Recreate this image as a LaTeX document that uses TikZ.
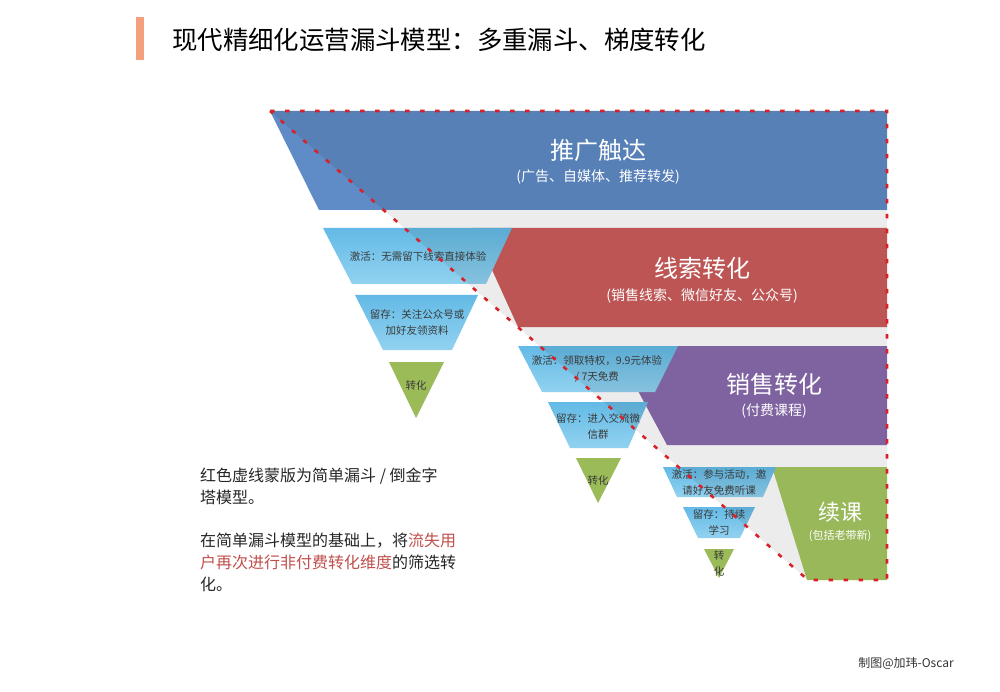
\documentclass[tikz,border=0pt]{standalone}
\usepackage{fontspec}
\setmainfont{Noto Sans CJK SC}
\usepackage{tikz}
\usetikzlibrary{calc,positioning}
\definecolor{bandblue}{HTML}{5F8BC6}
\definecolor{bandred}{HTML}{CD5C5C}
\definecolor{bandpurple}{HTML}{8A6CAD}
\definecolor{bandgreen}{HTML}{A6C762}
\definecolor{trigreen}{HTML}{9BBB59}
\definecolor{traptop}{HTML}{63BAE6}
\definecolor{trapbot}{HTML}{92D2F0}
\definecolor{txtgray}{HTML}{3A3A3A}
\definecolor{notered}{HTML}{C0504D}
\definecolor{titleorange}{HTML}{F4A07C}
\definecolor{maskred}{HTML}{D92228}
\newcommand{\rdtxt}[1]{\textcolor{notered}{#1}}

\begin{document}
\begin{tikzpicture}[x=1pt,y=-1pt,inner sep=0pt,
    trap/.style={top color=traptop,bottom color=trapbot,draw=none},
    tri/.style={fill=trigreen},
    bigtxt/.style={text=white,font=\fontsize{24}{28}\selectfont},
    subtxt/.style={text=white,font=\fontsize{14}{17}\selectfont},
    steptxt/.style={text=txtgray,font=\fontsize{10.5}{16}\selectfont,align=center},
    maskline/.style={draw=maskred,line width=2.6pt,dash pattern=on 4.5pt off 10.5pt}]
  \useasboundingbox[fill=white] (0,0) rectangle (1000,692);
  % title
  \fill[titleorange] (136,17) rectangle (144,60);
  \node[anchor=west,font=\fontsize{25.4}{30}\selectfont] (title) at (172,40) {现代精细化运营漏斗模型：多重漏斗、梯度转化};
  % outline of the simple funnel
  \coordinate (ftl) at (270,111);
  \coordinate (ftr) at (887,111);
  \coordinate (fbr) at (887,580);
  \coordinate (fbl) at (808,580);
  % the four bands
  \fill[bandblue] (270,111) -- (887,111) -- (887,210) -- (319,210) -- cycle;
  \fill[bandred] (473,228) -- (887,228) -- (887,327) -- (518,327) -- cycle;
  \fill[bandpurple] (614,346) -- (887,346) -- (887,445) -- (667,445) -- cycle;
  \fill[bandgreen] (772,467) -- (887,467) -- (887,580) -- (807,580) -- cycle;
  % side funnels
  \path[trap] (323,228) -- (512,228) -- (486,284) -- (352,284) -- cycle;
  \path[trap] (355,295) -- (478,295) -- (452,350) -- (383,350) -- cycle;
  \path[tri] (389,362) -- (444,362) -- (416,418) -- cycle;
  \path[trap] (518,346) -- (678,346) -- (655,392) -- (542,392) -- cycle;
  \path[trap] (548,402) -- (648,402) -- (628,448) -- (570,448) -- cycle;
  \path[tri] (576,458) -- (621,458) -- (598,503) -- cycle;
  \path[trap] (663,467) -- (776,467) -- (763,497) -- (677,497) -- cycle;
  \path[trap] (683,507) -- (755,507) -- (740,538) -- (698,538) -- cycle;
  \path[tri] (704,549) -- (734,549) -- (719,578) -- cycle;
  % mask
  \fill[black,fill opacity=0.075] (ftl) -- (ftr) -- (fbr) -- (fbl) -- cycle;
  % band texts
  \node[bigtxt] (reach) at (598,150) {推广触达};
  \node[subtxt] (reachsub) at (598,177) {(广告、自媒体、推荐转发)};
  \node[bigtxt] (lead) at (702,268) {线索转化};
  \node[subtxt] (leadsub) at (702,296) {(销售线索、微信好友、公众号)};
  \node[bigtxt] (sale) at (774,384) {销售转化};
  \node[subtxt] (salesub) at (774,411) {(付费课程)};
  \node[bigtxt,font=\fontsize{22}{26}\selectfont] (renew) at (840,512) {续课};
  \node[subtxt,font=\fontsize{11}{14}\selectfont] (renewsub) at (840,536) {(包括老带新)};
  % step texts
  \node[steptxt] (leadact) at (418,256) {激活：无需留下线索直接体验};
  \node[steptxt] (leadkeep) at (417,322) {留存：关注公众号或\\加好友领资料};
  \node[steptxt] (leadconv) at (416,386) {转化};
  \node[steptxt] (saleact) at (597,369) {激活：领取特权，9.9元体验\\/ 7天免费};
  \node[steptxt] (salekeep) at (598,426) {留存：进入交流微\\信群};
  \node[steptxt] (saleconv) at (598,481) {转化};
  \node[steptxt] (renewact) at (719,482) {激活：参与活动，邀\\请好友免费听课};
  \node[steptxt] (renewkeep) at (719,522) {留存：持续\\学习};
  \node[steptxt] (renewconv) at (719,564) {转\\化};
  % dotted mask outline
  \draw[maskline] (ftl) -- (ftr) -- (fbr) -- (fbl) -- cycle;
  % note
  \node[anchor=north west,align=left,text=black!85,font=\fontsize{16}{22}\selectfont] (note) at (200,468)
    {红色虚线蒙版为简单漏斗 / 倒金字\\塔模型。\\[21pt]
     在简单漏斗模型的基础上，将\rdtxt{流失用}\\\rdtxt{户再次进行非付费转化维度}的筛选转\\化。};
  \node[font=\fontsize{12}{14}\selectfont,text=black!80] (credit) at (906,663) {制图@加玮-Oscar};
\end{tikzpicture}
\end{document}
